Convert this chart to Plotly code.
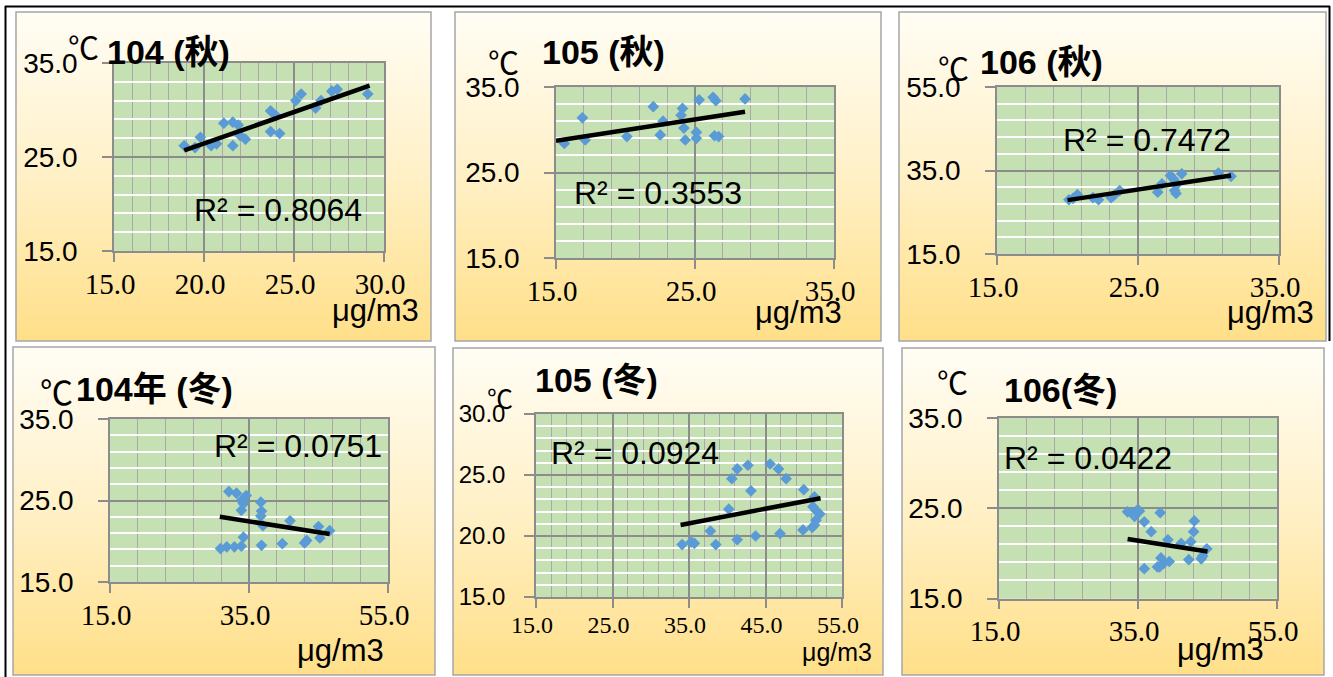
import base64
import plotly.graph_objects as go

W, H = 1333, 677

# ---------------- data ----------------
titles = ["104 (秋)", "105 (秋)", "106 (秋)", "104年 (冬)", "105 (冬)", "106(冬)"]
r2_labels = ["R² = 0.8064", "R² = 0.3553", "R² = 0.7472",
             "R² = 0.0751", "R² = 0.0924", "R² = 0.0422"]
x_unit = "μg/m3"
y_unit = "℃"

x_ranges = [[15, 30], [15, 35], [15, 35], [15, 55], [15, 55], [15, 55]]
x_dticks = [5, 10, 10, 20, 10, 20]
x_minor = [1, 2, 2, 4, 2, 4]
y_ranges = [[15, 35], [15, 35], [15, 55], [15, 35], [15, 30], [15, 35]]
y_dticks = [10, 10, 20, 10, 5, 10]
y_minor = [2, 2, 4, 2, 1, 2]

p1_pm = [18.9, 19.5, 19.8, 20.4, 20.7, 21.1, 21.6, 21.6, 21.9, 22.0, 22.3,
         23.7, 24.0, 23.7, 24.2, 25.1, 25.4, 26.2, 26.5, 27.1, 27.4, 29.1]
p1_temp = [26.2, 26.0, 27.1, 26.2, 26.4, 28.6, 28.7, 26.2, 28.4, 27.3, 26.9,
           29.9, 29.4, 27.7, 27.5, 31.0, 31.7, 30.2, 31.0, 32.0, 32.2, 31.7]
p1_trend_pm = [18.9, 29.2]
p1_trend_temp = [25.7, 32.6]

p2_pm = [15.6, 16.9, 17.1, 20.1, 22.0, 22.7, 22.5, 24.1, 24.0, 24.2, 24.3,
         25.1, 25.1, 25.3, 26.3, 26.5, 26.4, 26.7, 28.6]
p2_temp = [28.4, 31.4, 28.8, 29.2, 32.7, 31.0, 29.4, 32.5, 31.7, 30.2, 28.8,
           29.7, 29.0, 33.5, 33.8, 33.4, 29.3, 29.2, 33.6]
p2_trend_pm = [15.0, 28.6]
p2_trend_temp = [28.7, 32.1]

p3_pm = [20.1, 20.4, 20.7, 21.8, 22.2, 23.1, 23.3, 23.7, 26.4, 26.7, 27.3,
         27.5, 27.6, 27.8, 28.1, 27.7, 30.7, 31.6]
p3_temp = [28.0, 28.3, 29.2, 28.5, 28.0, 28.5, 29.1, 30.2, 29.8, 31.8, 33.8,
           33.0, 30.2, 31.8, 34.2, 29.5, 34.4, 33.6]
p3_trend_pm = [20.0, 31.6]
p3_trend_temp = [27.9, 33.8]

p4_pm = [32.1, 33.2, 33.9, 34.6, 34.2, 33.9, 36.7, 36.8, 36.7, 37.0, 40.9,
         45.0, 46.6, 45.2, 43.3, 43.0, 39.8, 36.8, 34.2, 33.9, 32.9, 31.8, 30.9]
p4_temp = [26.1, 25.9, 25.0, 25.6, 24.6, 23.8, 24.8, 23.7, 23.1, 21.9, 22.5,
           21.8, 21.3, 20.4, 20.1, 19.8, 19.7, 19.5, 20.5, 19.4, 19.3, 19.3, 19.1]
p4_trend_pm = [30.8, 46.6]
p4_trend_temp = [23.0, 20.9]

p5_pm = [34.1, 35.3, 35.7, 37.8, 38.5, 40.2, 40.6, 41.3, 41.3, 42.7, 43.1,
         43.7, 45.6, 46.7, 47.7, 46.9, 50.0, 49.9, 51.4, 51.2, 51.6, 52.1,
         51.6, 51.4, 51.1]
p5_temp = [19.3, 19.5, 19.4, 20.4, 19.3, 22.2, 24.7, 25.5, 19.7, 25.8, 23.7,
           20.0, 25.9, 25.5, 24.7, 20.2, 23.8, 20.5, 23.2, 22.4, 22.1, 21.8,
           21.3, 20.9, 20.7]
p5_trend_pm = [33.9, 52.2]
p5_trend_temp = [20.9, 23.1]

p6_pm = [33.5, 34.1, 34.8, 35.2, 34.5, 35.9, 38.2, 36.9, 39.3, 41.2, 42.6,
         43.1, 43.0, 44.3, 44.9, 44.1, 42.3, 39.5, 38.3, 38.7, 37.8, 35.9, 38.1]
p6_temp = [24.6, 24.5, 24.7, 24.7, 24.1, 23.5, 24.5, 22.4, 21.5, 21.1, 21.3,
           23.6, 22.4, 19.7, 20.5, 19.4, 19.3, 19.1, 19.5, 18.9, 18.5, 18.3, 18.5]
p6_trend_pm = [33.5, 45.0]
p6_trend_temp = [21.6, 20.2]

series_pm = [p1_pm, p2_pm, p3_pm, p4_pm, p5_pm, p6_pm]
series_temp = [p1_temp, p2_temp, p3_temp, p4_temp, p5_temp, p6_temp]
trend_pm = [p1_trend_pm, p2_trend_pm, p3_trend_pm, p4_trend_pm, p5_trend_pm, p6_trend_pm]
trend_temp = [p1_trend_temp, p2_trend_temp, p3_trend_temp, p4_trend_temp, p5_trend_temp, p6_trend_temp]

# ---------------- layout / style (pixels) ----------------
SANS = "Liberation Sans, Noto Sans CJK TC, sans-serif"
SERIF = "Liberation Serif, serif"
CJK = "Noto Sans CJK TC, sans-serif"

panels = [
    dict(box=(16, 12, 431, 341), plot=(114, 63, 384, 251),
         title=(105, 52), cel=(83, 46), r2=(192, 210), unit=(330, 311),
         xfs=29, yfs=28, ufs=31, cfs=31, ysd=19, xsd=-3),
    dict(box=(455, 12, 881, 341), plot=(556, 87, 834, 258),
         title=(540, 52), cel=(503, 61), r2=(572, 193), unit=(753, 313),
         xfs=29, yfs=28, ufs=31, cfs=31, ysd=19, xsd=-3),
    dict(box=(899, 12, 1326, 341), plot=(997, 87, 1279, 254),
         title=(978, 62), cel=(953, 66), r2=(1061, 140), unit=(1225, 312),
         xfs=29, yfs=28, ufs=31, cfs=31, ysd=19, xsd=-3),
    dict(box=(13, 347, 435, 675), plot=(110, 419, 388, 582),
         title=(74, 389), cel=(56, 391), r2=(212, 446), unit=(295, 650),
         xfs=29, yfs=28, ufs=31, cfs=33, ysd=19, xsd=-3),
    dict(box=(453, 348, 883, 675), plot=(536, 414, 842, 597),
         title=(533, 380), cel=(500, 397), r2=(549, 453), unit=(800, 652),
         xfs=24, yfs=24, ufs=25, cfs=26, ysd=14, xsd=-4),
    dict(box=(902, 348, 1324, 675), plot=(999, 418, 1277, 598.5),
         title=(1002, 390), cel=(952, 381), r2=(1002, 458), unit=(1175, 649),
         xfs=29, yfs=28, ufs=31, cfs=31, ysd=19, xsd=-3),
]


def px(x):
    return x / W


def py(y):
    return 1 - y / H


grad_svg = ('<svg xmlns="http://www.w3.org/2000/svg" width="100" height="100" '
            'viewBox="0 0 100 100" preserveAspectRatio="none">'
            '<defs><linearGradient id="g" x1="0" y1="0" x2="0" y2="1">'
            '<stop offset="0" stop-color="#FFFDF5"/>'
            '<stop offset="0.5" stop-color="#FFF0C6"/>'
            '<stop offset="1" stop-color="#FFDF88"/>'
            '</linearGradient></defs>'
            '<rect x="0" y="0" width="100" height="100" fill="url(#g)"/></svg>')
grad_src = "data:image/svg+xml;base64," + base64.b64encode(grad_svg.encode()).decode()

fig = go.Figure()
layout = dict(width=W, height=H,
              margin=dict(l=0, r=0, t=0, b=0, pad=0, autoexpand=False),
              paper_bgcolor="white", plot_bgcolor="rgba(0,0,0,0)",
              showlegend=False)
images, shapes, annotations = [], [], []

GRID_MAJOR = "#8C8C8C"
GRID_MINOR_V = "#A9A9A9"

for i, p in enumerate(panels):
    n = i + 1
    xa, ya = ("x" if n == 1 else f"x{n}"), ("y" if n == 1 else f"y{n}")
    bx0, by0, bx1, by1 = p["box"]
    qx0, qy0, qx1, qy1 = p["plot"]

    images.append(dict(source=grad_src, xref="paper", yref="paper",
                       x=px(bx0), y=py(by0), sizex=px(bx1) - px(bx0),
                       sizey=py(by0) - py(by1), xanchor="left", yanchor="top",
                       sizing="stretch", layer="below"))
    shapes.append(dict(type="rect", xref="paper", yref="paper",
                       x0=px(bx0), x1=px(bx1), y0=py(by1), y1=py(by0),
                       line=dict(color="#A6A6A6", width=1.5), fillcolor="rgba(0,0,0,0)",
                       layer="below"))
    shapes.append(dict(type="rect", xref="paper", yref="paper",
                       x0=px(qx0), x1=px(qx1), y0=py(qy1), y1=py(qy0),
                       line=dict(width=0), fillcolor="#C5E0B3", layer="below"))

    xkey = "xaxis" if n == 1 else f"xaxis{n}"
    ykey = "yaxis" if n == 1 else f"yaxis{n}"
    layout[xkey] = dict(
        domain=[px(qx0), px(qx1)], anchor=ya, range=x_ranges[i],
        tick0=x_ranges[i][0], dtick=x_dticks[i], tickformat=".1f",
        showgrid=True, gridcolor=GRID_MAJOR, gridwidth=1.5,
        minor=dict(dtick=x_minor[i], tick0=x_ranges[i][0], showgrid=True,
                   gridcolor=GRID_MINOR_V, gridwidth=1.4, ticks=""),
        showline=True, linecolor=GRID_MAJOR, linewidth=1.5, mirror=True,
        ticks="outside", ticklen=9, tickwidth=1.5, tickcolor=GRID_MAJOR,
        tickfont=dict(family=SERIF, size=p["xfs"], color="black"),
        ticklabelstandoff=p["xsd"], ticklabelshift=-4, zeroline=False,
        automargin=False, fixedrange=True)
    layout[ykey] = dict(
        domain=[py(qy1), py(qy0)], anchor=xa, range=y_ranges[i],
        tick0=y_ranges[i][0], dtick=y_dticks[i], tickformat=".1f",
        showgrid=True, gridcolor=GRID_MAJOR, gridwidth=1.5,
        minor=dict(dtick=y_minor[i], tick0=y_ranges[i][0], showgrid=True,
                   gridcolor="white", gridwidth=2, ticks=""),
        showline=True, linecolor=GRID_MAJOR, linewidth=1.5, mirror=True,
        ticks="outside", ticklen=10, tickwidth=1.5, tickcolor=GRID_MAJOR,
        tickfont=dict(family=SANS, size=p["yfs"], color="black"),
        ticklabelstandoff=p["ysd"], zeroline=False,
        automargin=False, fixedrange=True)

    fig.add_trace(go.Scatter(x=series_pm[i], y=series_temp[i], mode="markers",
                             xaxis=xa, yaxis=ya,
                             marker=dict(symbol="diamond", size=9, color="#5B9BD5",
                                         line=dict(width=0)),
                             hoverinfo="skip"))
    fig.add_trace(go.Scatter(x=trend_pm[i], y=trend_temp[i], mode="lines",
                             xaxis=xa, yaxis=ya,
                             line=dict(color="black", width=4.5),
                             hoverinfo="skip"))

    tx, ty = p["title"]
    annotations.append(dict(text=f"<b>{titles[i]}</b>", xref="paper", yref="paper",
                            x=px(tx), y=py(ty), xanchor="left", yanchor="middle",
                            showarrow=False,
                            font=dict(family=SANS, size=34, color="black")))
    cx, cy = p["cel"]
    annotations.append(dict(text=y_unit, xref="paper", yref="paper",
                            x=px(cx), y=py(cy), xanchor="center", yanchor="middle",
                            showarrow=False,
                            font=dict(family=CJK, size=p["cfs"], color="black")))
    rx, ry = p["r2"]
    annotations.append(dict(text=r2_labels[i], xref="paper", yref="paper",
                            x=px(rx), y=py(ry), xanchor="left", yanchor="middle",
                            showarrow=False,
                            font=dict(family=SANS, size=32, color="black")))
    ux, uy = p["unit"]
    annotations.append(dict(text=x_unit, xref="paper", yref="paper",
                            x=px(ux), y=py(uy), xanchor="left", yanchor="middle",
                            showarrow=False,
                            font=dict(family=SANS, size=p["ufs"], color="black")))

# table border lines
for (x0, y0, x1, y1) in [(5, 6.5, 1330, 6.5), (5.5, 6, 5.5, 677), (1329.5, 6, 1329.5, 341)]:
    shapes.append(dict(type="line", xref="paper", yref="paper",
                       x0=px(x0), x1=px(x1), y0=py(y0), y1=py(y1),
                       line=dict(color="black", width=2)))

layout["images"] = images
layout["shapes"] = shapes
layout["annotations"] = annotations
fig.update_layout(**layout)

fig.write_html("out.html", config={"displayModeBar": False},
               post_script="document.body.style.margin='0';"
                           "document.body.style.overflow='hidden';")
